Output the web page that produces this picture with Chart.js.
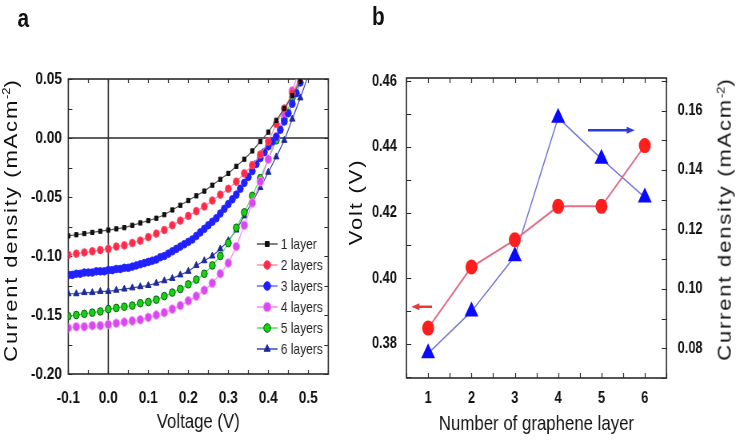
<!DOCTYPE html>
<html>
<head>
<meta charset="utf-8">
<script src="https://cdn.jsdelivr.net/npm/chart.js@4/dist/chart.umd.min.js"></script>
<style>
  body { margin: 0; background: #fff; width: 736px; height: 442px; overflow: hidden; position: relative;
         font-family: 'Liberation Sans', Arial, sans-serif; color: #111; }
  /* the source figure is squeezed horizontally; draw wide, then squeeze */
  #page { position: absolute; left: 0; top: 0; width: 920px; height: 442px;
          transform: scaleX(0.8); transform-origin: 0 0; }
  .box { position: absolute; top: 0; width: 460px; height: 442px; }
  .tag { position: absolute; font-weight: bold; font-size: 26px; line-height: 1; }
  .ytitle { position: absolute; white-space: nowrap; font-size: 22px; letter-spacing: 1.8px; line-height: 1;
            transform: translate(-50%, -50%) rotate(-90deg); }
  .ytitle sup { font-size: 13px; letter-spacing: 0; }
</style>
</head>
<body>
<div id="page">
  <div class="box" style="left:0"><canvas id="chartA" width="460" height="442"></canvas></div>
  <div class="box" style="left:460px"><canvas id="chartB" width="460" height="442"></canvas></div>
  <div class="tag" style="left:22px;top:5px">a</div>
  <div class="tag" style="left:465px;top:3px">b</div>
  <div class="ytitle" style="left:13px;top:220px">Current density (mAcm<sup>-2</sup>)</div>
  <div class="ytitle" style="left:446px;top:202px">Volt (V)</div>
  <div class="ytitle" style="left:906px;top:219px">Current density (mAcm<sup>-2</sup>)</div>
</div>
<script>
// ---- panel a: J-V curves ----
const voltage = [-0.10, -0.08, -0.06, -0.04, -0.02, 0.00, 0.02, 0.04, 0.06, 0.08, 0.10,
  0.12, 0.14, 0.16, 0.18, 0.20, 0.22, 0.24, 0.26, 0.28, 0.30,
  0.32, 0.34, 0.36, 0.38, 0.40, 0.42, 0.44, 0.46, 0.48, 0.50];
const voltageFine = [-0.10, -0.09, -0.08, -0.07, -0.06, -0.05, -0.04, -0.03, -0.02, -0.01,
  0.00, 0.01, 0.02, 0.03, 0.04, 0.05, 0.06, 0.07, 0.08, 0.09,
  0.10, 0.11, 0.12, 0.13, 0.14, 0.15, 0.16, 0.17, 0.18, 0.19,
  0.20, 0.21, 0.22, 0.23, 0.24, 0.25, 0.26, 0.27, 0.28, 0.29,
  0.30, 0.31, 0.32, 0.33, 0.34, 0.35, 0.36, 0.37, 0.38, 0.39,
  0.40, 0.41, 0.42, 0.43, 0.44, 0.45, 0.46, 0.47, 0.48, 0.49, 0.50];

const j1 = [-0.083, -0.082, -0.081, -0.080, -0.079, -0.078, -0.077, -0.076, -0.074, -0.072, -0.070,
  -0.068, -0.065, -0.061, -0.057, -0.053, -0.049, -0.045, -0.040, -0.035, -0.030,
  -0.024, -0.018, -0.011, -0.003, 0.005, 0.015, 0.025, 0.036, 0.048, 0.061];
const j2 = [-0.099, -0.098, -0.097, -0.096, -0.095, -0.094, -0.092, -0.091, -0.089, -0.087, -0.084,
  -0.081, -0.078, -0.074, -0.070, -0.066, -0.062, -0.058, -0.053, -0.048, -0.043,
  -0.037, -0.030, -0.023, -0.014, -0.003, 0.012, 0.025, 0.038, 0.051, 0.065];
const j3 = [-0.116, -0.116, -0.115, -0.115, -0.114, -0.114, -0.114, -0.113, -0.113, -0.113,
  -0.112, -0.112, -0.111, -0.111, -0.110, -0.110, -0.109, -0.108, -0.107, -0.106,
  -0.105, -0.104, -0.103, -0.101, -0.100, -0.098, -0.096, -0.094, -0.092, -0.090,
  -0.088, -0.086, -0.083, -0.080, -0.077, -0.074, -0.071, -0.068, -0.064, -0.060,
  -0.056, -0.052, -0.048, -0.043, -0.038, -0.033, -0.028, -0.022, -0.017, -0.012,
  -0.007, -0.003, 0.001, 0.007, 0.014, 0.021, 0.029, 0.038, 0.047, 0.056, 0.066];
const j4 = [-0.161, -0.160, -0.160, -0.159, -0.159, -0.158, -0.157, -0.156, -0.155, -0.154, -0.152,
  -0.150, -0.148, -0.145, -0.142, -0.138, -0.134, -0.129, -0.123, -0.115, -0.106,
  -0.092, -0.074, -0.055, -0.037, -0.018, 0.001, 0.020, 0.040, 0.060, 0.080];
const j5 = [-0.151, -0.150, -0.149, -0.148, -0.147, -0.145, -0.144, -0.143, -0.142, -0.140, -0.139,
  -0.137, -0.134, -0.131, -0.128, -0.124, -0.120, -0.115, -0.108, -0.100, -0.089,
  -0.076, -0.063, -0.049, -0.034, -0.018, -0.002, 0.016, 0.034, 0.053, 0.072];
const j6 = [-0.132, -0.132, -0.131, -0.131, -0.130, -0.130, -0.129, -0.128, -0.127, -0.126, -0.125,
  -0.123, -0.121, -0.119, -0.116, -0.113, -0.108, -0.104, -0.100, -0.094, -0.087,
  -0.078, -0.066, -0.054, -0.042, -0.029, -0.016, -0.002, 0.016, 0.034, 0.053];

const seriesNames = ['1 layer', '2 layers', '3 layers', '4 layers', '5 layers', '6 layers'];
const voltTicks = [-0.1, 0.0, 0.1, 0.2, 0.3, 0.4, 0.5];
const jTicks = [0.05, 0.00, -0.05, -0.10, -0.15, -0.20];

// ---- panel b: Voc and Jsc vs layers ----
const layers = [1, 2, 3, 4, 5, 6];
const voc = [0.3848, 0.4034, 0.4117, 0.4219, 0.4219, 0.4404];
const jsc = [0.0783, 0.0924, 0.1110, 0.1576, 0.1438, 0.1308];
const voltAxisTicks = [0.38, 0.40, 0.42, 0.44, 0.46];
const jscAxisTicks = [0.08, 0.10, 0.12, 0.14, 0.16];

const FONT = "'Liberation Sans', Arial, sans-serif";
const titleFont = { family: FONT, size: 21 };

const pts = (xs, ys) => xs.map((x, i) => ({ x, y: ys[i] }));

// frame, inward tick marks and zero lines
const frame = {
  id: 'frame',
  beforeDatasetsDraw(chart, args, opts) {
    const { ctx, chartArea: a } = chart;
    ctx.save();
    ctx.strokeStyle = opts.color;
    ctx.lineWidth = 1.6;
    (opts.zero || []).forEach(id => {
      const s = chart.scales[id];
      const p = s.getPixelForValue(0);
      ctx.beginPath();
      if (s.isHorizontal()) { ctx.moveTo(p, a.top); ctx.lineTo(p, a.bottom); }
      else { ctx.moveTo(a.left, p); ctx.lineTo(a.right, p); }
      ctx.stroke();
    });
    ctx.lineWidth = 1.2;
    (opts.ticks || []).forEach(t => {
      const s = chart.scales[t.scale];
      ctx.beginPath();
      for (let v = t.from; v <= t.to + 1e-9; v += t.step) {
        const p = Math.round(s.getPixelForValue(v)) + 0.5;
        if (s.isHorizontal()) {
          ctx.moveTo(p, a.top); ctx.lineTo(p, a.top + t.len);
          ctx.moveTo(p, a.bottom); ctx.lineTo(p, a.bottom - t.len);
        } else {
          if (t.side !== 'right') { ctx.moveTo(a.left, p); ctx.lineTo(a.left + t.len, p); }
          if (t.side !== 'left') { ctx.moveTo(a.right, p); ctx.lineTo(a.right - t.len, p); }
        }
      }
      ctx.stroke();
    });
    ctx.lineWidth = 1.6;
    ctx.strokeRect(a.left, a.top, a.right - a.left, a.bottom - a.top);
    ctx.restore();
  }
};

// legend drawn inside the plot, lower right
const insideLegend = {
  id: 'insideLegend',
  afterDatasetsDraw(chart, args, opts) {
    const { ctx } = chart;
    chart.data.datasets.forEach((ds, i) => {
      const y = opts.y + i * opts.gap;
      ctx.save();
      ctx.strokeStyle = ds.borderColor;
      ctx.lineWidth = 1.5;
      ctx.beginPath(); ctx.moveTo(opts.x, y); ctx.lineTo(opts.x + opts.len, y); ctx.stroke();
      ctx.fillStyle = ds.pointBackgroundColor;
      ctx.strokeStyle = ds.pointBorderColor;
      ctx.lineWidth = 1;
      Chart.helpers.drawPoint(ctx, { pointStyle: ds.pointStyle, radius: ds.pointRadius + 0.5, borderWidth: 1, rotation: 0 },
        opts.x + opts.len / 2, y);
      ctx.fillStyle = '#222';
      ctx.font = `15px ${FONT}`;
      ctx.textBaseline = 'middle';
      ctx.fillText(ds.label, opts.x + opts.len + 4, y + 0.5);
      ctx.restore();
    });
  }
};

const arrows = {
  id: 'arrows',
  afterDatasetsDraw(chart, args, opts) {
    const { ctx } = chart;
    opts.items.forEach(it => {
      const xs = chart.scales.x, ys = chart.scales[it.axis];
      const x0 = xs.getPixelForValue(it.from), x1 = xs.getPixelForValue(it.to);
      const y = ys.getPixelForValue(it.y);
      const d = Math.sign(x1 - x0);
      ctx.save();
      ctx.strokeStyle = it.color; ctx.fillStyle = it.color; ctx.lineWidth = 2.5;
      ctx.beginPath(); ctx.moveTo(x0, y); ctx.lineTo(x1 - d * 5, y); ctx.stroke();
      ctx.beginPath(); ctx.moveTo(x1 + d * 2, y); ctx.lineTo(x1 - d * 8, y - 3.5); ctx.lineTo(x1 - d * 8, y + 3.5);
      ctx.closePath(); ctx.fill();
      ctx.restore();
    });
  }
};

function jvSet(i, xs, ys, line, fill, edge, style, r) {
  return {
    label: seriesNames[i], data: pts(xs, ys), borderColor: line, borderWidth: 1.2,
    pointStyle: style, pointRadius: r, pointBackgroundColor: fill, pointBorderColor: edge,
    pointBorderWidth: 1, tension: 0
  };
}

const noGrid = { display: false, drawTicks: false };

new Chart(document.getElementById('chartA'), {
  type: 'line',
  data: {
    datasets: [
      jvSet(0, voltage, j1, '#555555', '#111111', '#111111', 'rect', 3),
      jvSet(1, voltage, j2, '#ff8c9c', '#ff2a4a', '#ff4a66', 'circle', 3.8),
      jvSet(2, voltageFine, j3, '#6a6aff', '#1f1fff', '#2a2aff', 'circle', 3.8),
      jvSet(3, voltage, j4, '#ff80ff', '#d64af0', '#ff8cff', 'circle', 4.3),
      jvSet(4, voltage, j5, '#50e050', '#18d018', '#0a5a0a', 'circle', 3.8),
      jvSet(5, voltage, j6, '#3a4ab0', '#1e2a96', '#1e2a96', 'triangle', 4)
    ]
  },
  options: {
    responsive: false, animation: false,
    layout: { padding: { top: 79, right: 49.6, left: 0, bottom: 0 } },
    plugins: {
      legend: { display: false }, tooltip: { enabled: false },
      frame: {
        color: '#2a2a2a', zero: ['x', 'y'],
        ticks: [
          { scale: 'x', from: -0.1, to: 0.55, step: 0.05, len: 4 },
          { scale: 'y', from: -0.2, to: 0.05, step: 0.025, len: 5 }
        ]
      },
      insideLegend: { x: 321, y: 244, gap: 21, len: 26 }
    },
    scales: {
      x: {
        type: 'linear', min: -0.1, max: 0.55,
        grid: noGrid, border: { display: false },
        afterBuildTicks: s => { s.ticks = voltTicks.map(v => ({ value: v })); },
        afterFit: s => { s.height = 68; },
        ticks: { callback: v => v.toFixed(1), color: '#111', font: { family: FONT, size: 17, weight: 'bold' },
                 padding: 14, maxRotation: 0, autoSkip: false },
        title: { display: true, text: 'Voltage (V)', color: '#111', font: titleFont, padding: { top: 0, bottom: 7 } }
      },
      y: {
        min: -0.2, max: 0.05,
        grid: noGrid, border: { display: false },
        afterBuildTicks: s => { s.ticks = jTicks.map(v => ({ value: v })); },
        afterFit: s => { s.width = 85.4; },
        ticks: { callback: v => v.toFixed(2), color: '#111', font: { family: FONT, size: 17, weight: 'bold' },
                 padding: 8, autoSkip: false }
      }
    }
  },
  plugins: [frame, insideLegend]
});

new Chart(document.getElementById('chartB'), {
  type: 'line',
  data: {
    datasets: [
      {
        label: 'Volt', data: pts(layers, voc), yAxisID: 'y',
        borderColor: '#e0708a', borderWidth: 2, pointStyle: 'circle', pointRadius: 6.5,
        pointBackgroundColor: '#ff1e1e', pointBorderColor: '#ff1e1e', tension: 0
      },
      {
        label: 'Current density', data: pts(layers, jsc), yAxisID: 'y1',
        borderColor: '#7676dc', borderWidth: 1.5, pointStyle: 'triangle', pointRadius: 8.5,
        pointBackgroundColor: '#0a0aff', pointBorderColor: '#0a0aff', tension: 0
      }
    ]
  },
  options: {
    responsive: false, animation: false,
    layout: { padding: { top: 78, right: 0, left: 0, bottom: 0 } },
    plugins: {
      legend: { display: false }, tooltip: { enabled: false },
      frame: {
        color: '#2a2a2a',
        ticks: [
          { scale: 'x', from: 0.5, to: 6.5, step: 0.5, len: 5 },
          { scale: 'y', from: 0.37, to: 0.46, step: 0.01, len: 6, side: 'left' },
          { scale: 'y1', from: 0.07, to: 0.17, step: 0.01, len: 6, side: 'right' }
        ]
      },
      arrows: {
        items: [
          { axis: 'y', y: 0.3913, from: 1.09, to: 0.65, color: '#e83838' },
          { axis: 'y1', y: 0.1534, from: 4.69, to: 5.73, color: '#2a3ae0' }
        ]
      }
    },
    scales: {
      x: {
        type: 'linear', min: 0.5, max: 6.5,
        grid: noGrid, border: { display: false },
        afterBuildTicks: s => { s.ticks = layers.map(v => ({ value: v })); },
        afterFit: s => { s.height = 64; },
        ticks: { color: '#111', font: { family: FONT, size: 16, weight: 'bold' }, padding: 11, maxRotation: 0, autoSkip: false },
        title: { display: true, text: 'Number of graphene layer', color: '#111', font: titleFont, padding: { top: 0, bottom: 5 } }
      },
      y: {
        position: 'left', min: 0.3696, max: 0.461,
        grid: noGrid, border: { display: false },
        afterBuildTicks: s => { s.ticks = voltAxisTicks.map(v => ({ value: v })); },
        afterFit: s => { s.width = 48.1; },
        ticks: { callback: v => v.toFixed(2), color: '#111', font: { family: FONT, size: 16, weight: 'bold' },
                 padding: 12, autoSkip: false }
      },
      y1: {
        position: 'right', min: 0.07, max: 0.171,
        grid: noGrid, border: { display: false },
        afterBuildTicks: s => { s.ticks = jscAxisTicks.map(v => ({ value: v })); },
        afterFit: s => { s.width = 86.9; },
        ticks: { callback: v => v.toFixed(2), color: '#111', font: { family: FONT, size: 16, weight: 'bold' },
                 padding: 14, autoSkip: false }
      }
    }
  },
  plugins: [frame, arrows]
});
</script>
</body>
</html>
